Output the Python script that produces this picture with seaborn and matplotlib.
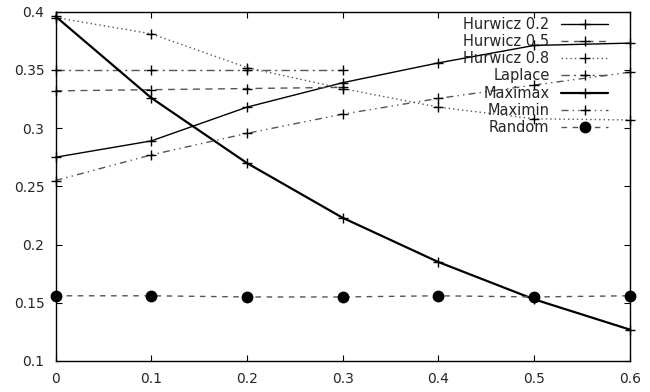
import numpy as np
import pandas as pd
import seaborn as sns
import matplotlib.pyplot as plt

# ------------------------------- data ------------------------------- #
x_full = [0, 0.1, 0.2, 0.3, 0.4, 0.5, 0.6]
x_short = [0, 0.1, 0.2, 0.3]

hurwicz_02 = [0.275, 0.289, 0.318, 0.339, 0.356, 0.371, 0.373]
hurwicz_05 = [0.332, 0.333, 0.334, 0.335]
hurwicz_08 = [0.395, 0.381, 0.352, 0.334, 0.318, 0.308, 0.307]
laplace = [0.350, 0.350, 0.350, 0.350]
maximax = [0.396, 0.326, 0.270, 0.223, 0.185, 0.153, 0.127]
maximin = [0.255, 0.277, 0.2955, 0.312, 0.3255, 0.337, 0.348]
random_pick = [0.156, 0.156, 0.155, 0.155, 0.156, 0.155, 0.156]

x_ticks = [0, 0.1, 0.2, 0.3, 0.4, 0.5, 0.6]
y_ticks = [0.1, 0.15, 0.2, 0.25, 0.3, 0.35, 0.4]

# ------------------------------- style ------------------------------ #
sns.set_theme(style="ticks")
plt.rcParams['font.family'] = ['DejaVu Sans']
plt.rcParams['font.size'] = 10

gray = "#555555"
series = [
    # label, x, y, color, linestyle, lw, marker, markersize
    ("Hurwicz 0.2", x_full, hurwicz_02, "black", "-", 1.0, "+", 7),
    ("Hurwicz 0.5", x_short, hurwicz_05, gray, (0, (5, 4)), 1.0, "+", 7),
    ("Hurwicz 0.8", x_full, hurwicz_08, gray, (0, (1, 2.2)), 1.0, "+", 7),
    ("Laplace", x_short, laplace, gray, (0, (6, 3, 1.5, 3)), 1.0, "+", 7),
    ("Maximax", x_full, maximax, "black", "-", 1.6, "+", 7),
    ("Maximin", x_full, maximin, gray, (0, (5, 3, 1, 3, 1, 3)), 1.0, "+", 7),
    ("Random", x_full, random_pick, gray, (0, (4, 4)), 1.0, "o", 7.5),
]

fig = plt.figure(figsize=(6.5, 3.92), dpi=100)
ax = fig.add_axes([0.0854, 0.0791, 0.8834, 0.8911])

for label, xs, ys, color, ls, lw, marker, ms in series:
    sns.lineplot(
        x=xs, y=ys, ax=ax,
        color=color, linestyle=ls, linewidth=lw,
        marker=marker, markersize=ms,
        markeredgecolor="black", markerfacecolor="black",
        markeredgewidth=1.0,
        label=label, clip_on=False, sort=False,
    )

ax.set_xlim(0, 0.6)
ax.set_ylim(0.1, 0.4)
ax.set_xticks(x_ticks)
ax.set_yticks(y_ticks)
ax.set_xticklabels([f"{v:g}" for v in x_ticks])
ax.set_yticklabels([f"{v:g}" for v in y_ticks])
ax.set(xlabel="", ylabel="")

ax.tick_params(direction="in", length=4.5, width=0.8, color="black",
               top=True, right=True, labelsize=10)
ax.tick_params(axis="x", pad=8)
ax.tick_params(axis="y", pad=8)
for sp in ax.spines.values():
    sp.set_visible(True)
    sp.set_color("black")
    sp.set_linewidth(1.0)

ax.legend(
    loc="upper right", bbox_to_anchor=(0.962, 0.985),
    frameon=False, markerfirst=False, handlelength=3.2,
    handletextpad=0.8, labelspacing=0.15, borderpad=0,
    borderaxespad=0, fontsize=10.5, numpoints=1,
)

plt.savefig("out.png", dpi=100)
